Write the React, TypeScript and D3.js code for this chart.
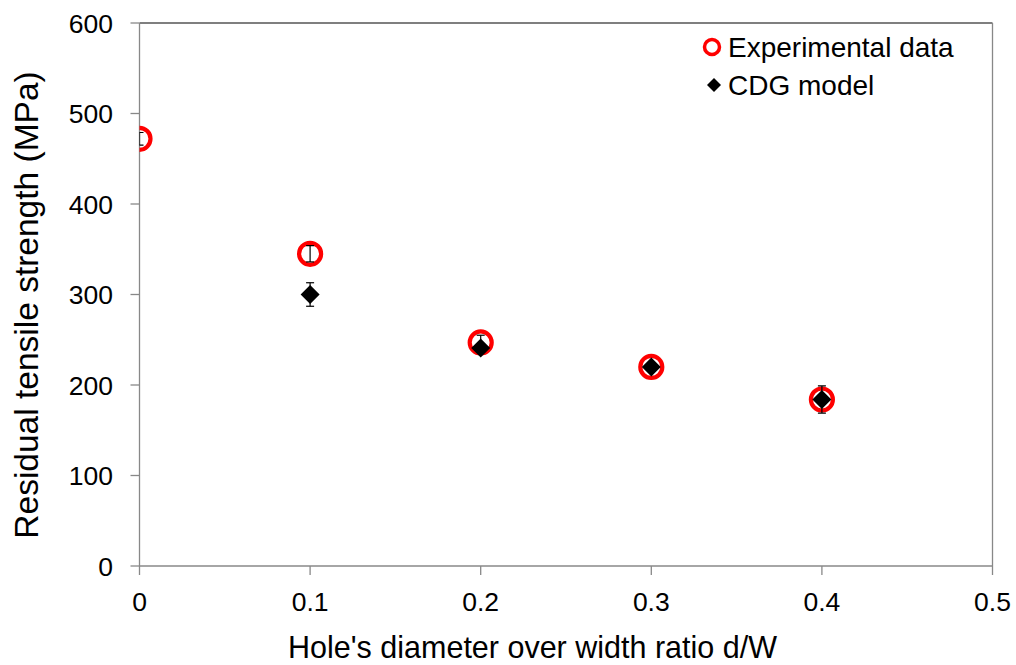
import React from "react";
import * as d3 from "d3";

const xTicks = [0, 0.1, 0.2, 0.3, 0.4, 0.5];
const yTicks = [0, 100, 200, 300, 400, 500, 600];

const expX = [0, 0.1, 0.2, 0.3, 0.4];
const expY = [472, 345, 247, 220, 184];
const expErr = [7, 9, 8, 4, 5];

const cdgX = [0.1, 0.2, 0.3, 0.4];
const cdgY = [300, 241, 220, 184];
const cdgErr = [13, 4, 4, 15];

const W = 1016;
const H = 665;
const M = { left: 139.5, right: 992.5, top: 23, bottom: 566 };
const FONT = "'Liberation Sans', Arial, sans-serif";

export default function App() {
  const x = d3.scaleLinear().domain([0, 0.5]).range([M.left, M.right]);
  const y = d3.scaleLinear().domain([0, 600]).range([M.bottom, M.top]);
  const diamond = (cx: number, cy: number, r: number) =>
    `M${cx},${cy - r}L${cx + r},${cy}L${cx},${cy + r}L${cx - r},${cy}Z`;
  const errBar = (cx: number, v: number, e: number, key: string) => {
    const y1 = y(v + e);
    const y2 = y(v - e);
    return (
      <g key={key} stroke="#000" strokeWidth={1.2}>
        <line x1={cx} x2={cx} y1={y1} y2={y2} />
        <line x1={cx - 4} x2={cx + 4} y1={y1} y2={y1} />
        <line x1={cx - 4} x2={cx + 4} y1={y2} y2={y2} />
      </g>
    );
  };
  return (
    <svg width={W} height={H} style={{ position: "absolute", left: 0, top: 0 }} fontFamily={FONT}>
      <defs>
        <clipPath id="plot">
          <rect x={M.left} y={M.top} width={M.right - M.left} height={M.bottom - M.top} />
        </clipPath>
      </defs>
      <rect width={W} height={H} fill="#fff" />
      {/* plot border */}
      <line x1={M.left} x2={M.right} y1={M.top} y2={M.top} stroke="#555" strokeWidth={1.3} />
      <line x1={M.right} x2={M.right} y1={M.top} y2={M.bottom} stroke="#888" strokeWidth={1.3} />
      <line x1={M.left} x2={M.left} y1={M.top} y2={M.bottom} stroke="#888" strokeWidth={1.3} />
      <line x1={M.left} x2={M.right} y1={M.bottom} y2={M.bottom} stroke="#888" strokeWidth={1.3} />
      {/* y ticks */}
      {yTicks.map((t) => (
        <g key={"y" + t}>
          <line x1={M.left - 9} x2={M.left} y1={y(t)} y2={y(t)} stroke="#888" strokeWidth={1.3} />
          <text x={113} y={y(t) + 9.5} textAnchor="end" fontSize={26.5} fill="#000">
            {t}
          </text>
        </g>
      ))}
      {/* x ticks */}
      {xTicks.map((t) => (
        <g key={"x" + t}>
          <line x1={x(t)} x2={x(t)} y1={M.bottom} y2={M.bottom + 9} stroke="#888" strokeWidth={1.3} />
          <text x={x(t)} y={611} textAnchor="middle" fontSize={26.5} fill="#000">
            {t === 0 ? "0" : String(t)}
          </text>
        </g>
      ))}
      {/* axis titles */}
      <text x={532.5} y={658} textAnchor="middle" fontSize={30.5} fill="#000">
        Hole's diameter over width ratio d/W
      </text>
      <text
        transform={`translate(38,305) rotate(-90)`}
        textAnchor="middle"
        fontSize={33.5}
        fill="#000"
      >
        Residual tensile strength (MPa)
      </text>
      {/* data */}
      <g clipPath="url(#plot)">
        {expX.map((v, i) => (
          <circle key={"e" + i} cx={x(v)} cy={y(expY[i])} r={11} fill="none" stroke="#ff0000" strokeWidth={4.2} />
        ))}
        {expX.map((v, i) => errBar(x(v), expY[i], expErr[i], "ee" + i))}
        {cdgX.map((v, i) => (
          <path key={"c" + i} d={diamond(x(v), y(cdgY[i]), 9.5)} fill="#000" />
        ))}
        {cdgX.map((v, i) => errBar(x(v), cdgY[i], cdgErr[i], "ce" + i))}
      </g>
      {/* legend */}
      <circle cx={712} cy={47} r={7.5} fill="none" stroke="#ff0000" strokeWidth={3.5} />
      <text x={728} y={57} fontSize={28} fill="#000">
        Experimental data
      </text>
      <path d={diamond(714, 85, 7)} fill="#000" />
      <text x={728} y={95} fontSize={28} fill="#000">
        CDG model
      </text>
    </svg>
  );
}
